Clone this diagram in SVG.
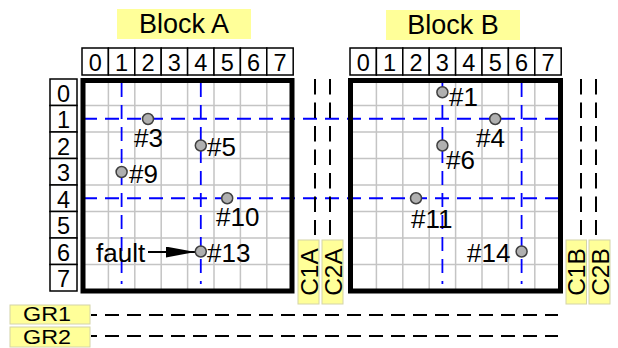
<svg xmlns="http://www.w3.org/2000/svg" width="618" height="348" viewBox="0 0 618 348">
<style>
text{font-family:"Liberation Sans",Arial,sans-serif;fill:#000}
.hd{font-size:23.5px;text-anchor:middle}
.cell{fill:#fff;stroke:#000;stroke-width:1.5}
.ttl{fill:#ffff99}
.ylw{fill:#ffff99;stroke:#d4d4a8;stroke-width:1}
.grid{fill:none;stroke:#c4c4c4;stroke-width:1.5}
.blue{fill:none;stroke:#0000ff;stroke-width:1.8;stroke-dasharray:14 8}
.blk{fill:none;stroke:#000;stroke-width:5}
.dot{fill:#b0b0b0;stroke:#404040;stroke-width:1.5}
.lbl{font-size:26px}
.cl{fill:none;stroke:#000;stroke-width:2;stroke-dasharray:15.5 8}
.gr{fill:none;stroke:#000;stroke-width:2;stroke-dasharray:14 8;stroke-dashoffset:8}
.ct{font-size:24.5px;text-anchor:middle}
.grt{font-size:20px}
</style>
<defs>
<marker id="ah" viewBox="0 0 30 11" refX="30" refY="5.5" markerWidth="30" markerHeight="11" markerUnits="userSpaceOnUse" orient="auto">
<path d="M0 0L30 5.5L0 11Z" fill="#000"/>
</marker>
</defs>

<!-- titles -->
<g id="titleA"><rect class="ttl" x="117" y="9" width="134" height="30"/><text x="184" y="32.5" font-size="27" text-anchor="middle">Block A</text></g>
<g id="titleB"><rect class="ttl" x="386" y="10" width="134" height="30"/><text x="453" y="33.5" font-size="27" text-anchor="middle">Block B</text></g>

<!-- column headers A -->
<g id="headerA">
<rect class="cell" x="82" y="48" width="26.4" height="27"/><rect class="cell" x="108.4" y="48" width="26.4" height="27"/><rect class="cell" x="134.8" y="48" width="26.4" height="27"/><rect class="cell" x="161.2" y="48" width="26.4" height="27"/><rect class="cell" x="187.6" y="48" width="26.4" height="27"/><rect class="cell" x="214" y="48" width="26.4" height="27"/><rect class="cell" x="240.4" y="48" width="26.4" height="27"/><rect class="cell" x="266.8" y="48" width="26.4" height="27"/>
<text class="hd" x="95.2" y="70.5">0</text><text class="hd" x="121.6" y="70.5">1</text><text class="hd" x="148" y="70.5">2</text><text class="hd" x="174.4" y="70.5">3</text><text class="hd" x="200.8" y="70.5">4</text><text class="hd" x="227.2" y="70.5">5</text><text class="hd" x="253.6" y="70.5">6</text><text class="hd" x="280" y="70.5">7</text>
</g>
<!-- column headers B -->
<g id="headerB">
<rect class="cell" x="350" y="48" width="26.4" height="27"/><rect class="cell" x="376.4" y="48" width="26.4" height="27"/><rect class="cell" x="402.8" y="48" width="26.4" height="27"/><rect class="cell" x="429.2" y="48" width="26.4" height="27"/><rect class="cell" x="455.6" y="48" width="26.4" height="27"/><rect class="cell" x="482" y="48" width="26.4" height="27"/><rect class="cell" x="508.4" y="48" width="26.4" height="27"/><rect class="cell" x="534.8" y="48" width="26.4" height="27"/>
<text class="hd" x="363.2" y="70.5">0</text><text class="hd" x="389.6" y="70.5">1</text><text class="hd" x="416" y="70.5">2</text><text class="hd" x="442.4" y="70.5">3</text><text class="hd" x="468.8" y="70.5">4</text><text class="hd" x="495.2" y="70.5">5</text><text class="hd" x="521.6" y="70.5">6</text><text class="hd" x="548" y="70.5">7</text>
</g>
<!-- row headers -->
<g id="rows">
<rect class="cell" x="50" y="79" width="27" height="26.5"/><rect class="cell" x="50" y="105.5" width="27" height="26.5"/><rect class="cell" x="50" y="132" width="27" height="26.5"/><rect class="cell" x="50" y="158.5" width="27" height="26.5"/><rect class="cell" x="50" y="185" width="27" height="26.5"/><rect class="cell" x="50" y="211.5" width="27" height="26.5"/><rect class="cell" x="50" y="238" width="27" height="26.5"/><rect class="cell" x="50" y="264.5" width="27" height="26.5"/>
<text class="hd" x="63.5" y="101.5">0</text><text class="hd" x="63.5" y="128">1</text><text class="hd" x="63.5" y="154.5">2</text><text class="hd" x="63.5" y="181">3</text><text class="hd" x="63.5" y="207.5">4</text><text class="hd" x="63.5" y="234">5</text><text class="hd" x="63.5" y="260.5">6</text><text class="hd" x="63.5" y="287">7</text>
</g>

<!-- block grids -->
<g id="blockA">
<rect x="83" y="80.5" width="209" height="210.5" fill="#fff"/>
<path class="grid" d="M108.4 80V291M134.8 80V291M161.2 80V291M187.6 80V291M214 80V291M240.4 80V291M266.8 80V291M83 105.5H292M83 132H292M83 158.5H292M83 185H292M83 211.5H292M83 238H292M83 264.5H292"/>
</g>
<g id="blockB">
<rect x="350.5" y="80.5" width="210" height="210.5" fill="#fff"/>
<path class="grid" d="M376.4 80V291M402.8 80V291M429.2 80V291M455.6 80V291M482 80V291M508.4 80V291M534.8 80V291M350.5 105.5H560.5M350.5 132H560.5M350.5 158.5H560.5M350.5 185H560.5M350.5 211.5H560.5M350.5 238H560.5M350.5 264.5H560.5"/>
</g>

<!-- connectors / lines -->
<g id="connectors">
<path class="blue" d="M83 118.75H560M83 198.25H560M121.6 83V284M200.8 83V284M442.4 83V284M521.6 83V284"/>
<path class="cl" d="M315 79V235M330 79V235M581 79V235M596 79V235"/>
<path class="gr" d="M91 315H558M91 336H558"/>
<line x1="148" y1="252" x2="195.5" y2="252" stroke="#000" stroke-width="2" marker-end="url(#ah)"/>
</g>

<rect class="blk" x="83" y="80.5" width="209" height="210.5"/>
<rect class="blk" x="350.5" y="80.5" width="210" height="210.5"/>

<!-- nodes -->
<g id="n3"><circle class="dot" cx="148" cy="119" r="5.5"/><text class="lbl" x="134" y="147">#3</text></g>
<g id="n5"><circle class="dot" cx="200.8" cy="145.5" r="5.5"/><text class="lbl" x="207" y="155.5">#5</text></g>
<g id="n9"><circle class="dot" cx="121.6" cy="172" r="5.5"/><text class="lbl" x="129" y="183">#9</text></g>
<g id="n10"><circle class="dot" cx="227.2" cy="198.25" r="5.5"/><text class="lbl" x="216" y="226">#10</text></g>
<g id="n13"><circle class="dot" cx="200.8" cy="251.5" r="5.5"/><text class="lbl" x="207" y="261.5">#13</text></g>
<g id="fault"><text class="lbl" x="96" y="261.5">fault</text></g>
<g id="n1"><circle class="dot" cx="442.4" cy="92.25" r="5.5"/><text class="lbl" x="449" y="106">#1</text></g>
<g id="n4"><circle class="dot" cx="495.2" cy="119" r="5.5"/><text class="lbl" x="476" y="147">#4</text></g>
<g id="n6"><circle class="dot" cx="442.4" cy="145.5" r="5.5"/><text class="lbl" x="446" y="168.5">#6</text></g>
<g id="n11"><circle class="dot" cx="416" cy="198.25" r="5.5"/><text class="lbl" x="411" y="228">#11</text></g>
<g id="n14"><circle class="dot" cx="521.6" cy="251.5" r="5.5"/><text class="lbl" x="467" y="262">#14</text></g>

<!-- column labels -->
<g id="C1A"><rect class="ylw" x="298" y="240" width="21" height="64"/><text class="ct" transform="translate(317.5 272) rotate(-90)">C1A</text></g>
<g id="C2A"><rect class="ylw" x="322" y="240" width="21" height="64"/><text class="ct" transform="translate(341.5 272) rotate(-90)">C2A</text></g>
<g id="C1B"><rect class="ylw" x="566" y="240" width="20.5" height="64"/><text class="ct" transform="translate(584.5 272) rotate(-90)">C1B</text></g>
<g id="C2B"><rect class="ylw" x="589" y="240" width="21" height="64"/><text class="ct" transform="translate(608.5 272) rotate(-90)">C2B</text></g>

<!-- row group labels -->
<g id="GR1"><rect class="ylw" x="10" y="305" width="80" height="19"/><text class="grt" x="23" y="321" textLength="48" lengthAdjust="spacingAndGlyphs">GR1</text></g>
<g id="GR2"><rect class="ylw" x="10" y="327" width="80" height="20"/><text class="grt" x="23" y="343.5" textLength="48" lengthAdjust="spacingAndGlyphs">GR2</text></g>
</svg>
